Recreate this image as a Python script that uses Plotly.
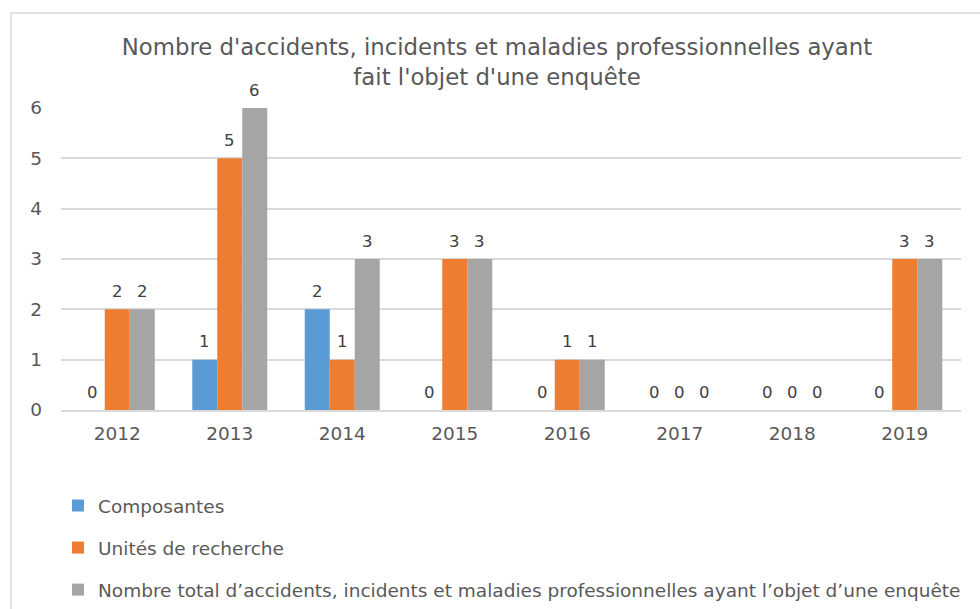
import plotly.graph_objects as go

years = ["2012", "2013", "2014", "2015", "2016", "2017", "2018", "2019"]
composantes = [0, 1, 2, 0, 0, 0, 0, 0]
unites = [2, 5, 1, 3, 1, 0, 0, 3]
total = [2, 6, 3, 3, 1, 0, 0, 3]

names = ["Composantes", "Unités de recherche",
         "Nombre total d’accidents, incidents et maladies professionnelles ayant l’objet d’une enquête"]
colors = ["#5B9BD5", "#ED7D31", "#A5A5A5"]
series = [composantes, unites, total]

FONT = "DejaVu Sans"
W, H = 980, 609
L, R, T, B = 61, 19, 108, 199
pw, ph = W - L - R, H - T - B

fig = go.Figure()
for i, (nm, col, vals) in enumerate(zip(names, colors, series)):
    fig.add_trace(go.Bar(x=years, y=vals, name=nm, marker_color=col,
                         marker_line_width=0, legendgroup=str(i)))

bargap = 1 / 3
bw = (1 - bargap) / 3
annotations = []
for k, vals in enumerate(series):
    for i, v in enumerate(vals):
        annotations.append(dict(x=i + (k - 1) * bw, y=v, xref="x", yref="y",
                                text=str(v), showarrow=False, yshift=18,
                                font=dict(family=FONT, size=16.5, color="#404040")))

fig.update_layout(
    width=W, height=H,
    margin=dict(l=L, r=R, t=T, b=B, autoexpand=False),
    paper_bgcolor="white", plot_bgcolor="white",
    barmode="group", bargap=bargap, bargroupgap=0,
    title=dict(text="Nombre d'accidents, incidents et maladies professionnelles ayant<br>fait l'objet d'une enquête",
               x=497 / W, xref="container", xanchor="center",
               y=1 - 55 / H, yref="container", yanchor="middle",
               font=dict(family=FONT, size=22.8, color="#595959")),
    xaxis=dict(type="category", showgrid=False, showline=True, linecolor="#d9d9d9",
               linewidth=1.5, ticks="", ticklabelstandoff=6,
               tickfont=dict(family=FONT, size=18.5, color="#595959")),
    yaxis=dict(range=[0, 6], dtick=1, showgrid=True, gridcolor="#d9d9d9", gridwidth=1.5,
               zeroline=False, showline=False, ticks="", ticklabelstandoff=18,
               tickfont=dict(family=FONT, size=18.5, color="#595959")),
    legend=dict(orientation="v", x=(58 - L) / pw, xanchor="left",
                y=(410 - 487) / ph, yanchor="top", traceorder="grouped",
                tracegroupgap=15, font=dict(family=FONT, size=18.5, color="#595959"),
                bgcolor="rgba(0,0,0,0)"),
    showlegend=True,
    annotations=annotations,
    shapes=[dict(type="rect", xref="paper", yref="paper",
                 x0=(11 - L) / pw, x1=(990 - L) / pw,
                 y0=(410 - 620) / ph, y1=(410 - 13) / ph,
                 line=dict(color="#d9d9d9", width=1.5), layer="below")],
)

fig.write_html("out.html", config={"displayModeBar": False},
               post_script="document.body.style.margin='0';")
